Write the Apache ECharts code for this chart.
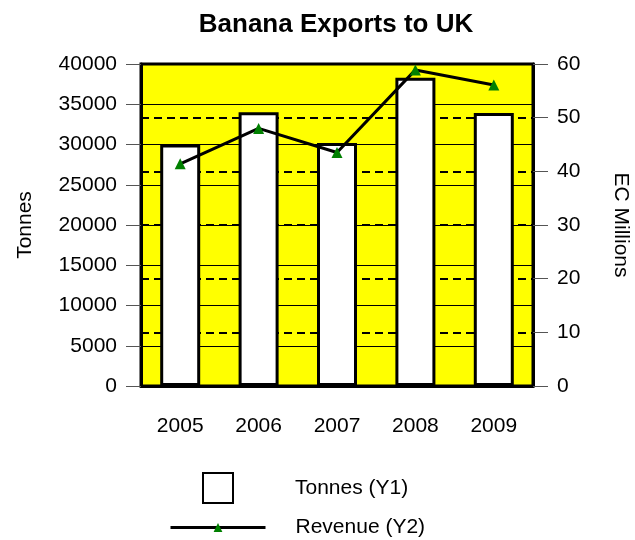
<!DOCTYPE html>
<html>
<head>
<meta charset="utf-8">
<script src="https://cdn.jsdelivr.net/npm/echarts@6/dist/echarts.min.js"></script>
<style>
html,body{margin:0;padding:0;background:#fff;}
#c{width:635px;height:540px;}
</style>
</head>
<body>
<div id="c"></div>
<script>
const years = ['2005', '2006', '2007', '2008', '2009'];
const tonnes = [30000, 34000, 30200, 38300, 33900];
const revenue = [41.4, 48.0, 43.5, 58.9, 56.1];
const tonnesTicks = { min: 0, max: 40000, interval: 5000 };
const revenueTicks = { min: 0, max: 60, interval: 10 };

const FONT = 'Liberation Sans, Arial, sans-serif';
const chart = echarts.init(document.getElementById('c'), null, { renderer: 'canvas' });
chart.setOption({
  animation: false,
  backgroundColor: '#ffffff',
  textStyle: { fontFamily: FONT, color: '#000' },
  title: {
    text: 'Banana Exports to UK',
    left: 336, top: 12, textAlign: 'center', padding: 0,
    textStyle: { fontFamily: FONT, fontSize: 26, fontWeight: 'bold', color: '#000' }
  },
  grid: {
    left: 141, right: 102, top: 64, bottom: 154,
    outerBoundsMode: 'none',
    show: true, backgroundColor: '#ffff00', borderColor: '#000', borderWidth: 3,
    containLabel: false
  },
  legend: [
    {
      data: [{ name: 'Tonnes (Y1)', icon: 'rect' }], left: 202, top: 472, itemWidth: 30, itemHeight: 30,
      orient: 'vertical', padding: 0,
      textStyle: { fontFamily: FONT, fontSize: 21, color: '#000', padding: [0, 0, 0, 57] }
    },
    {
      data: ['Revenue (Y2)'], left: 169, top: 517, itemWidth: 95, itemHeight: 11,
      orient: 'vertical', padding: 0,
      lineStyle: { width: 3 },
      textStyle: { fontFamily: FONT, fontSize: 21, color: '#000', padding: [0, 0, 12, 25] }
    }
  ],
  xAxis: {
    type: 'category', data: years,
    axisLine: { lineStyle: { color: '#000', width: 3 } },
    axisTick: { alignWithLabel: true, length: 14, lineStyle: { color: '#555', width: 1 } },
    axisLabel: { fontFamily: FONT, fontSize: 21, color: '#000', margin: 30 },
    splitLine: { show: false }
  },
  yAxis: [
    {
      type: 'value', position: 'left', min: tonnesTicks.min, max: tonnesTicks.max, interval: tonnesTicks.interval,
      name: 'Tonnes', nameLocation: 'middle', nameGap: 105,
      nameTextStyle: { fontFamily: FONT, fontSize: 21, color: '#000' },
      axisLine: { show: true, lineStyle: { color: '#000', width: 3 } },
      axisTick: { show: true, length: 15, lineStyle: { color: '#555', width: 1 } },
      axisLabel: { fontFamily: FONT, fontSize: 21, color: '#000', margin: 24, formatter: v => String(v) },
      splitLine: { show: true, lineStyle: { color: '#000', width: 1, type: 'solid' } }
    },
    {
      type: 'value', position: 'right', min: revenueTicks.min, max: revenueTicks.max, interval: revenueTicks.interval,
      name: 'EC Millions', nameLocation: 'middle', nameGap: 77, nameRotate: -90,
      nameTextStyle: { fontFamily: FONT, fontSize: 21, color: '#000' },
      axisLine: { show: true, lineStyle: { color: '#000', width: 3 } },
      axisTick: { show: true, length: 15, lineStyle: { color: '#555', width: 1 } },
      axisLabel: { fontFamily: FONT, fontSize: 21, color: '#000', margin: 24, formatter: v => String(v) },
      splitLine: { show: true, lineStyle: { color: '#000', width: 2, type: [8, 5] } }
    }
  ],
  series: [
    {
      name: 'Tonnes (Y1)', type: 'bar', data: tonnes, yAxisIndex: 0, barWidth: 40,
      itemStyle: { color: '#ffffff', borderColor: '#000', borderWidth: 3 }
    },
    {
      name: 'Revenue (Y2)', type: 'line', data: revenue, yAxisIndex: 1,
      symbol: 'triangle', symbolSize: 11, showAllSymbol: true,
      lineStyle: { color: '#000', width: 3 },
      itemStyle: { color: '#008000' }
    }
  ]
});
</script>
</body>
</html>
